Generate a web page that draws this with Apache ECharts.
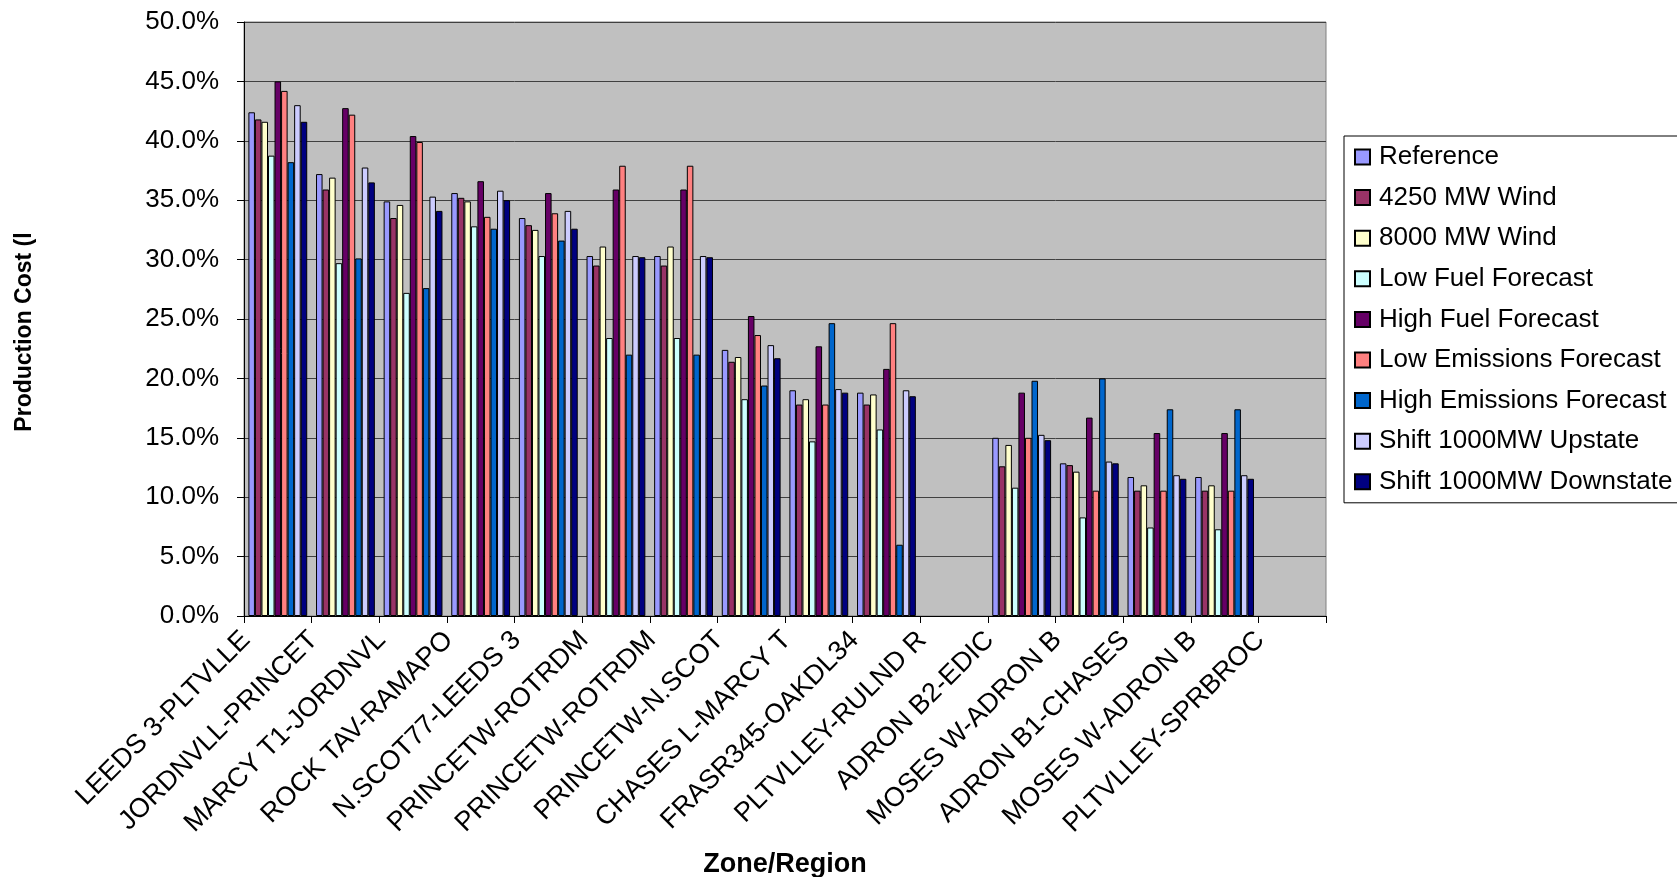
<!DOCTYPE html>
<html>
<head>
<meta charset="utf-8">
<script src="https://cdn.jsdelivr.net/npm/echarts@6/dist/echarts.min.js"></script>
<style>
html,body{margin:0;padding:0;background:#fff;}
#chart{width:1677px;height:877px;}
</style>
</head>
<body>
<div id="chart"></div>
<script>
const categories = ["LEEDS 3-PLTVLLE","JORDNVLL-PRINCET","MARCY T1-JORDNVL","ROCK TAV-RAMAPO","N.SCOT77-LEEDS 3","PRINCETW-ROTRDM","PRINCETW-ROTRDM","PRINCETW-N.SCOT","CHASES L-MARCY T","FRASR345-OAKDL34","PLTVLLEY-RULND R","ADRON B2-EDIC","MOSES W-ADRON B","ADRON B1-CHASES","MOSES W-ADRON B","PLTVLLEY-SPRBROC"];
const seriesNames = ["Reference","4250 MW Wind","8000 MW Wind","Low Fuel Forecast","High Fuel Forecast","Low Emissions Forecast","High Emissions Forecast","Shift 1000MW Upstate","Shift 1000MW Downstate"];
const reference   = [42.4, 37.2, 34.9, 35.6, 33.5, 30.3, 30.3, 22.4, 19.0, 18.8, null, 15.0, 12.85, 11.7, 11.7, null];
const wind4250    = [41.8, 35.9, 33.5, 35.2, 32.9, 29.5, 29.5, 21.4, 17.8, 17.8, null, 12.6, 12.7, 10.55, 10.55, null];
const wind8000    = [41.6, 36.9, 34.6, 34.9, 32.5, 31.1, 31.1, 21.8, 18.25, 18.65, null, 14.4, 12.15, 11.0, 11.0, null];
const lowFuel     = [38.75, 29.7, 27.2, 32.8, 30.3, 23.4, 23.4, 18.25, 14.7, 15.7, null, 10.8, 8.3, 7.45, 7.3, null];
const highFuel    = [45.0, 42.75, 40.4, 36.6, 35.6, 35.9, 35.9, 25.25, 22.7, 20.8, null, 18.8, 16.7, 15.4, 15.4, null];
const lowEmis     = [44.2, 42.2, 39.9, 33.6, 33.9, 37.9, 37.9, 23.65, 17.8, 24.65, null, 15.0, 10.55, 10.55, 10.55, null];
const highEmis    = [38.2, 30.1, 27.6, 32.6, 31.6, 22.0, 22.0, 19.4, 24.65, 6.0, null, 19.8, 20.0, 17.4, 17.4, null];
const shiftUp     = [43.0, 37.75, 35.3, 35.8, 34.1, 30.3, 30.3, 22.8, 19.1, 19.0, null, 15.25, 13.0, 11.85, 11.85, null];
const shiftDown   = [41.6, 36.5, 34.1, 35.0, 32.6, 30.2, 30.2, 21.7, 18.8, 18.5, null, 14.8, 12.85, 11.55, 11.55, null];
const yTicks = {min: 0, max: 50, interval: 5};

const seriesData = [reference, wind4250, wind8000, lowFuel, highFuel, lowEmis, highEmis, shiftUp, shiftDown];
const colors = ["#9999FF","#993366","#FFFFCC","#CCFFFF","#660066","#FF8080","#0066CC","#CCCCFF","#000080"];
const FONT = "'Liberation Sans', Arial, sans-serif";

const chart = echarts.init(document.getElementById('chart'), null, {renderer: 'canvas'});
chart.setOption({
  backgroundColor: '#ffffff',
  animation: false,
  textStyle: {fontFamily: FONT},
  grid: {left: 244, right: 351, top: 22, bottom: 261, show: true, backgroundColor: '#C0C0C0', borderColor: '#808080', borderWidth: 1, outerBoundsMode: 'none'},
  legend: {
    orient: 'vertical', left: 1344, top: 136,
    padding: [8, 10, 8, 10], itemGap: 14.6, itemWidth: 15, itemHeight: 15,
    backgroundColor: '#ffffff', borderColor: '#000000', borderWidth: 1,
    icon: 'rect',
    textStyle: {fontFamily: FONT, fontSize: 26, color: '#000', padding: [0,0,0,4]},
    data: seriesNames
  },
  xAxis: {
    type: 'category', data: categories,
    name: 'Zone/Region', nameLocation: 'middle', nameGap: 235,
    nameTextStyle: {fontFamily: FONT, fontSize: 27, fontWeight: 'bold', color: '#000'},
    axisLine: {lineStyle: {color: '#000', width: 1}},
    axisTick: {show: true, alignWithLabel: false, length: 7, lineStyle: {color: '#000'}},
    axisLabel: {rotate: 45, interval: 0, fontSize: 27, color: '#000', margin: -12, padding: [0, 45, 0, 0], fontFamily: FONT},
    splitLine: {show: false}
  },
  yAxis: {
    type: 'value', min: yTicks.min, max: yTicks.max, interval: yTicks.interval,
    name: 'Production Cost (l', nameLocation: 'middle', nameGap: 208,
    nameTextStyle: {fontFamily: FONT, fontSize: 23, fontWeight: 'bold', color: '#000', padding: [0, 26, 0, 0]},
    axisLine: {show: true, lineStyle: {color: '#000', width: 1}},
    axisTick: {show: true, length: 7, lineStyle: {color: '#000'}},
    axisLabel: {fontSize: 26, color: '#000', margin: 25, fontFamily: FONT, formatter: v => v.toFixed(1) + '%'},
    splitLine: {show: true, lineStyle: {color: '#404040', width: 1}}
  },
  series: seriesNames.map((n, i) => ({
    name: n, type: 'bar', data: seriesData[i],
    barGap: '0%', barCategoryGap: '13%',
    itemStyle: {color: colors[i], borderColor: '#000', borderWidth: 1}
  }))
});
</script>
</body>
</html>
